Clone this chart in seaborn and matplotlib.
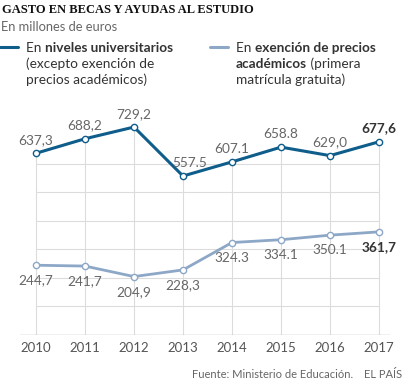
import pandas as pd
import seaborn as sns
import matplotlib.pyplot as plt
from matplotlib.text import Annotation

# Data
years = [2010, 2011, 2012, 2013, 2014, 2015, 2016, 2017]
universitarios = [637.3, 688.2, 729.2, 557.5, 607.1, 658.8, 629.0, 677.6]
exencion = [244.7, 241.7, 204.9, 228.3, 324.3, 334.1, 350.1, 361.7]
labels_univ = ['637,3', '688,2', '729,2', '557.5', '607.1', '658.8', '629,0', '677,6']
labels_exen = ['244,7', '241,7', '204,9', '228,3', '324.3', '334.1', '350.1', '361,7']

dark = '#0f5d8b'
light = '#8da7c7'
grid_col = '#dcdcdc'

df = pd.DataFrame({'Año': years * 2,
                   'Valor': universitarios + exencion,
                   'Serie': ['univ'] * 8 + ['exen'] * 8})

sns.set_style('white')
plt.rcParams['font.family'] = ['Lato', 'DejaVu Sans']

fig = plt.figure(figsize=(4.14, 3.92), dpi=100)
ax = fig.add_axes([20 / 414, 57 / 392, 370 / 414, 225 / 392])

# grid: horizontal lines every 100 (up to 600), vertical lines up to the top series
for v in range(100, 700, 100):
    ax.plot([years[0], years[-1]], [v, v], color=grid_col, lw=0.8, zorder=0)
for x, top in zip(years, universitarios):
    ax.plot([x, x], [0, top], color=grid_col, lw=0.8, zorder=0)
ax.axhline(0, color='#b5b5b5', lw=1, zorder=1)

sns.lineplot(data=df, x='Año', y='Valor', hue='Serie',
             palette={'univ': dark, 'exen': light}, ax=ax, legend=False,
             marker='o', markersize=4.5, markerfacecolor='white',
             markeredgewidth=1, zorder=3)
for line, lw in zip(ax.get_lines()[-2:], [2.2, 2.0]):
    line.set_linewidth(lw)
    line.set_markeredgecolor(line.get_color())

for i, (x, y, s) in enumerate(zip(years, universitarios, labels_univ)):
    last = i == len(years) - 1
    dx = 5 if i == 3 else 0
    ax.annotate(s, (x, y), xytext=(dx, 9.5), textcoords='offset points',
                ha='center', va='center', fontsize=9.8,
                color='#333333' if last else '#666666',
                fontweight='bold' if last else 'normal')
for i, (x, y, s) in enumerate(zip(years, exencion, labels_exen)):
    last = i == len(years) - 1
    ax.annotate(s, (x, y), xytext=(0, -11), textcoords='offset points',
                ha='center', va='center', fontsize=9.8,
                color='#333333' if last else '#666666',
                fontweight='bold' if last else 'normal')

ax.set_xlim(2010 - 16 / 49, 2017 + 11 / 49)
ax.set_ylim(0, 789)
ax.set_xticks(years)
ax.set_xticklabels([str(y) for y in years], fontsize=9.5, color='#555555')
ax.tick_params(axis='x', length=0, pad=5)
ax.set_yticks([])
ax.set_xlabel('')
ax.set_ylabel('')
sns.despine(ax=ax, left=True, bottom=True)

# Title and subtitle
fig.text(2 / 414, 1 - 10 / 392, 'GASTO EN BECAS Y AYUDAS AL ESTUDIO',
         family='Liberation Serif', fontweight='bold', fontsize=9,
         color='#111111', va='center')
fig.text(1 / 414, 1 - 27 / 392, 'En millones de euros', fontsize=9.3,
         color='#666666', va='center')


def legend_block(x0, line_col, lines):
    fig.add_artist(plt.Line2D([x0 / 414, (x0 + 18) / 414],
                              [1 - 47 / 392] * 2, color=line_col, lw=2.2))
    for k, parts in enumerate(lines):
        y = 1 - (47 + 7.5 + 15.5 * k) / 392
        prev = None
        for txt, bold in parts:
            kw = dict(fontsize=9.8, color='#333333',
                      fontweight='bold' if bold else 'normal', va='bottom')
            if prev is None:
                prev = fig.text((x0 + 26) / 414, y, txt, **kw)
            else:
                # continue on the same line right after the previous piece
                prev = Annotation(txt, xy=(1, 0), xycoords=prev, **kw)
                fig.add_artist(prev)


legend_block(0, dark, [[('En ', False), ('niveles universitarios', True)],
                       [('(excepto exención de', False)],
                       [('precios académicos)', False)]])
legend_block(210, light, [[('En ', False), ('exención de precios', True)],
                          [('académicos', True), (' (primera', False)],
                          [('matrícula gratuita)', False)]])

fig.text(353 / 414, 1 - 375 / 392, 'Fuente: Ministerio de Educación.',
         fontsize=8, color='#666666', ha='right', va='center')
fig.text(402 / 414, 1 - 375 / 392, 'EL PAÍS', fontsize=8, color='#666666',
         ha='right', va='center')

fig.savefig('out.png', dpi=100)
